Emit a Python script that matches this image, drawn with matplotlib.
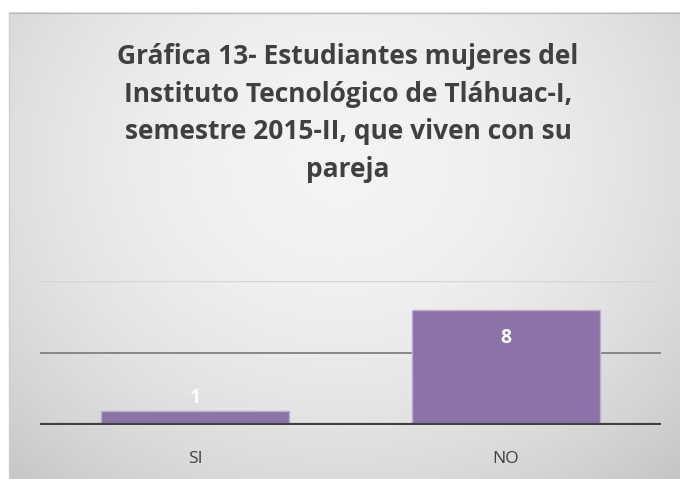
import numpy as np
import matplotlib.pyplot as plt

categories = ["SI", "NO"]
values = [1, 8]
title = ("Gráfica 13- Estudiantes mujeres del\n"
         "Instituto Tecnológico de Tláhuac-I,\n"
         "semestre 2015-II, que viven con su\n"
         "pareja")

plt.rcParams['font.family'] = ['Open Sans', 'DejaVu Sans']

W, H = 680, 479
fig = plt.figure(figsize=(W / 100, H / 100), dpi=100)
fig.patch.set_facecolor('white')

# radial gradient background of the chart frame
bg = fig.add_axes([9 / W, 0, (W - 9) / W, (H - 12) / H])
yy, xx = np.mgrid[0:467, 0:671]
r2 = ((xx - 330) / 400.0) ** 2 + ((yy - 150) / 350.0) ** 2
shade = np.clip(0.955 - 0.118 * r2, 0.75, 0.96)
bg.imshow(np.dstack([shade] * 3), aspect='auto', interpolation='bilinear')
bg.set_axis_off()
fig.add_artist(plt.Line2D([9 / W, 1], [1 - 12.5 / H, 1 - 12.5 / H], color='#bdbdbd', lw=1))
fig.add_artist(plt.Line2D([9 / W, 9 / W], [0, 1 - 12.5 / H], color='#d0d0d0', lw=1))

fig.text(348 / W, 1 - 113 / H, title, ha='center', va='center', fontsize=19,
         fontweight='bold', color='#404040', linespacing=1.5)

ax = fig.add_axes([40 / W, 1 - 425 / H, 621 / W, 144 / H])
ax.patch.set_alpha(0)
x = np.arange(len(categories))
bars = ax.bar(x, values, width=0.605, color='#8b72a8', edgecolor='#bcaccf', lw=1, zorder=2)
ax.set_xlim(-0.5, 1.5)
ax.set_ylim(0, 10)
ax.axhline(10, color='#d6d6d6', lw=1, zorder=1)
ax.axhline(5, color='#808080', lw=1.3, zorder=1)
ax.axhline(0, color='#404040', lw=3, zorder=3)
for sp in ax.spines.values():
    sp.set_visible(False)
ax.set_yticks([])
ax.set_xticks(x)
ax.set_xticklabels(categories, fontsize=12.5, color='#404040')
ax.tick_params(axis='x', length=0, pad=19)

for xi, v in zip(x, values):
    if v >= 5:
        ax.annotate(str(v), (xi, v), xytext=(0, -20.5), textcoords='offset points',
                    ha='center', va='center', color='white', fontweight='bold', fontsize=14)
    else:
        ax.annotate(str(v), (xi, v), xytext=(0, 9), textcoords='offset points',
                    ha='center', va='center', color='white', fontweight='bold', fontsize=14)

fig.savefig('out.png', dpi=100)
